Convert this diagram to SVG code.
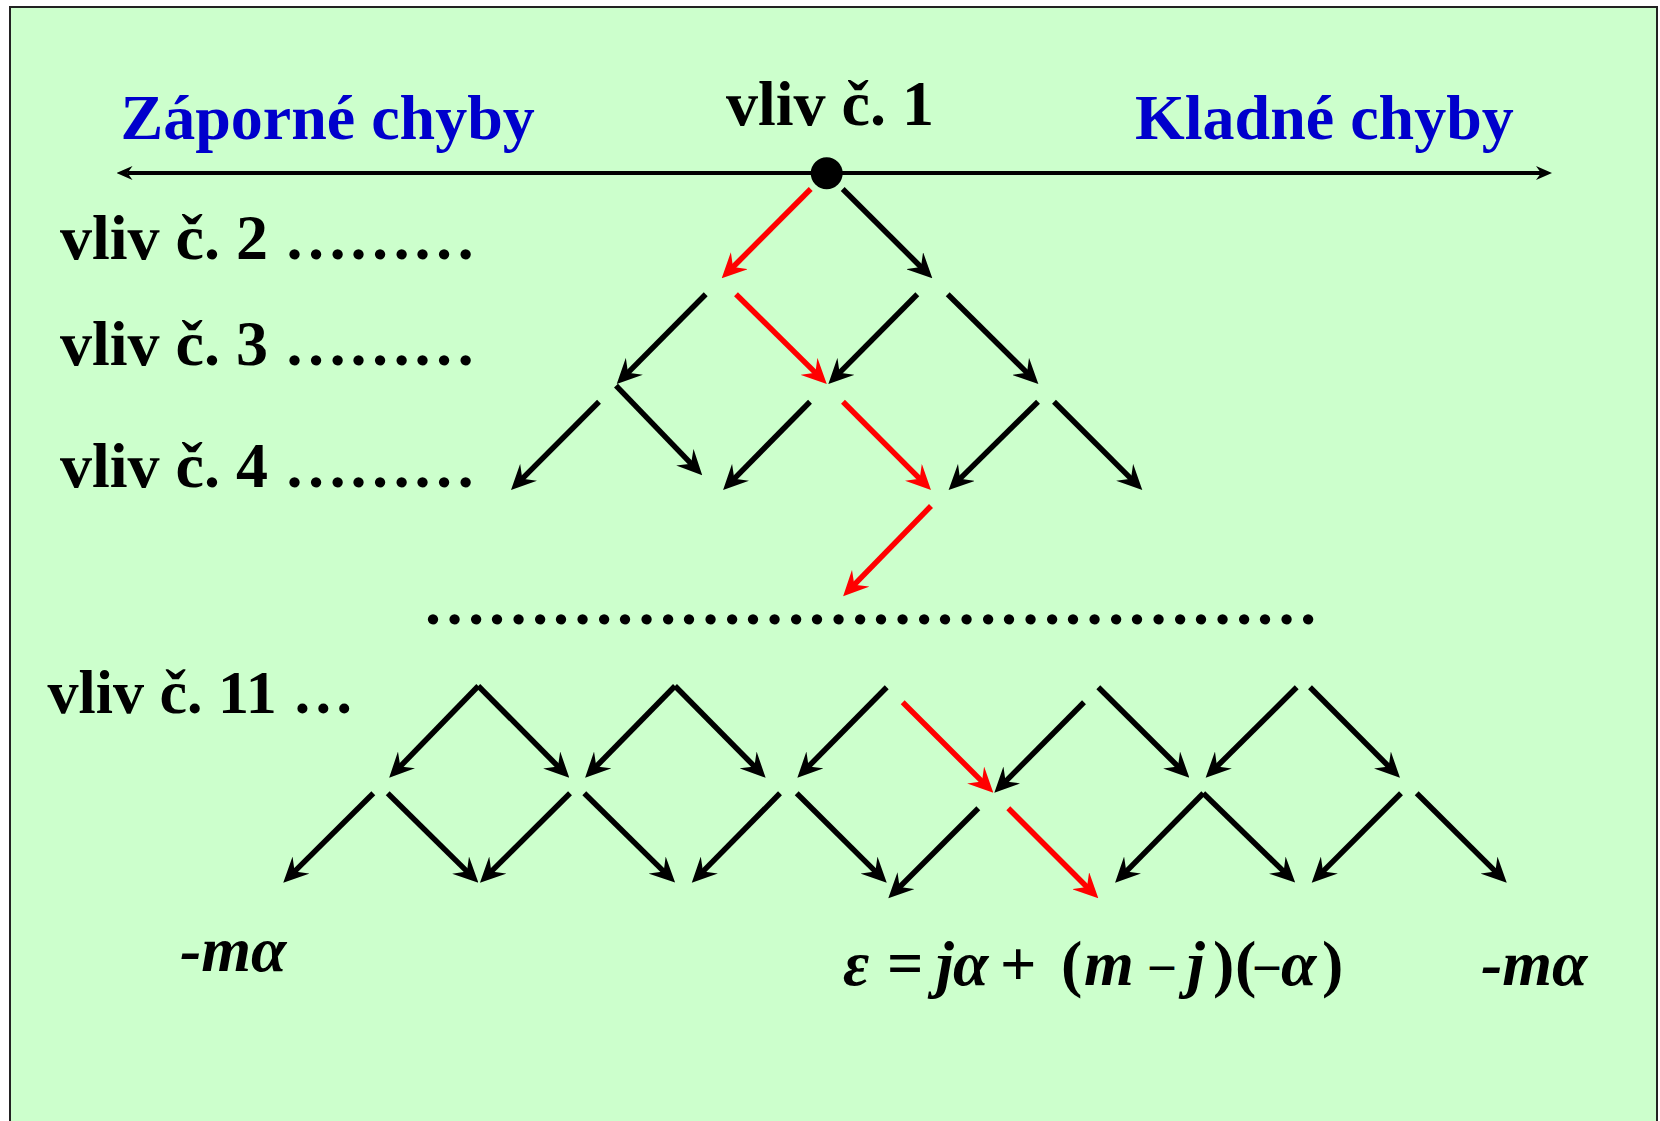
<svg xmlns="http://www.w3.org/2000/svg" width="1660" height="1121" viewBox="0 0 1660 1121">
<style>
.t{font-family:"Liberation Serif","Times New Roman",serif;font-weight:bold;font-size:64px;fill:#000}
.b{fill:#0000CC}
.i{font-style:italic}
.d{font-size:48px}
.k{stroke:#000;stroke-width:5.5;fill:none;marker-end:url(#ak)}
.r{stroke:#FF0000;stroke-width:5.5;fill:none;marker-end:url(#ar)}
</style>
<defs>
<marker id="ak" viewBox="0 0 25 24" markerWidth="25" markerHeight="24" refX="10" refY="12" orient="auto" markerUnits="userSpaceOnUse"><path d="M0,0 L25,12 L0,24 L9,12 Z" fill="#000"/></marker>
<marker id="ar" viewBox="0 0 25 24" markerWidth="25" markerHeight="24" refX="10" refY="12" orient="auto" markerUnits="userSpaceOnUse"><path d="M0,0 L25,12 L0,24 L9,12 Z" fill="#FF0000"/></marker>
<marker id="ax" viewBox="0 0 16 14" markerWidth="16" markerHeight="14" refX="5" refY="7" orient="auto-start-reverse" markerUnits="userSpaceOnUse"><path d="M0,0 L16,7 L0,14 L5,7 Z" fill="#000"/></marker>
</defs>
<rect x="10" y="7" width="1647" height="1125" fill="#CCFFCC" stroke="#222" stroke-width="2"/>

<g id="axis">
<line x1="127.5" y1="173" x2="1541" y2="173" stroke="#000" stroke-width="4" marker-start="url(#ax)" marker-end="url(#ax)"/>
</g>

<g id="label-zaporne"><text class="t b" x="120.5" y="139">Záporné chyby</text></g>
<g id="label-kladne"><text class="t b" x="1135" y="139">Kladné chyby</text></g>
<g id="label-vliv1"><text class="t" x="726" y="125">vliv č. 1</text></g>
<g id="label-vliv2"><text class="t" x="60" y="259">vliv č. 2 &#8230;&#8230;&#8230;</text></g>
<g id="label-vliv3"><text class="t" x="60" y="365">vliv č. 3 &#8230;&#8230;&#8230;</text></g>
<g id="label-vliv4"><text class="t" x="60" y="487">vliv č. 4 &#8230;&#8230;&#8230;</text></g>
<g id="label-dots"><text class="t" x="422.6" y="623.5">&#8230;&#8230;&#8230;&#8230;&#8230;&#8230;&#8230;&#8230;&#8230;&#8230;&#8230;&#8230;&#8230;&#8230;</text></g>
<g id="label-vliv11"><text class="t" x="47.6" y="713" style="font-size:62px">vliv č. 11 &#8230;</text></g>

<g id="node-start"><circle cx="826.7" cy="173.3" r="16" fill="#000"/></g>

<g id="connectors">
<line class="r" x1="810.7" y1="189" x2="732.3" y2="267.7"/>
<line class="k" x1="842.7" y1="189" x2="921.7" y2="267.7"/>

<line class="k" x1="705.7" y1="294.3" x2="627.3" y2="373.4"/>
<line class="r" x1="736" y1="294.3" x2="816.1" y2="373.4"/>
<line class="k" x1="917.3" y1="294.3" x2="838.9" y2="373.4"/>
<line class="k" x1="947.7" y1="294.3" x2="1027.7" y2="373.4"/>

<line class="k" x1="599" y1="401.7" x2="521.6" y2="479.4"/>
<line class="k" x1="616" y1="385.7" x2="691.8" y2="464.4"/>
<line class="k" x1="810" y1="401.7" x2="733.6" y2="479.4"/>
<line class="r" x1="843" y1="401.7" x2="920.4" y2="479.4"/>
<line class="k" x1="1038" y1="401.7" x2="959.3" y2="479.4"/>
<line class="k" x1="1054" y1="401.7" x2="1131.7" y2="479.4"/>

<line class="r" x1="931" y1="506" x2="853.6" y2="585.4"/>

<line class="k" x1="478.3" y1="686" x2="399.6" y2="767.1"/>
<line class="k" x1="478.3" y1="686" x2="558.7" y2="767.1"/>
<line class="k" x1="675" y1="686" x2="595.6" y2="767.1"/>
<line class="k" x1="675" y1="686" x2="755.1" y2="767.1"/>
<line class="k" x1="886.7" y1="687.3" x2="807.9" y2="767.1"/>
<line class="r" x1="902.7" y1="702.3" x2="982.7" y2="782.1"/>
<line class="k" x1="1084" y1="702.3" x2="1004.9" y2="782.1"/>
<line class="k" x1="1098.3" y1="687.3" x2="1178.7" y2="767.1"/>
<line class="k" x1="1296.7" y1="687.3" x2="1216.3" y2="767.1"/>
<line class="k" x1="1310" y1="687.3" x2="1389.4" y2="767.1"/>

<line class="k" x1="373.3" y1="793.3" x2="293.9" y2="872.1"/>
<line class="k" x1="387.7" y1="793.3" x2="467.7" y2="872.1"/>
<line class="k" x1="570" y1="793.3" x2="490.6" y2="872.1"/>
<line class="k" x1="584.3" y1="793.3" x2="664.4" y2="872.1"/>
<line class="k" x1="780" y1="793.3" x2="702.3" y2="872.1"/>
<line class="k" x1="796.7" y1="793.3" x2="876.1" y2="872.1"/>
<line class="k" x1="978.3" y1="808.3" x2="898.9" y2="887.7"/>
<line class="r" x1="1008.3" y1="808.3" x2="1087.7" y2="887.7"/>
<line class="k" x1="1203.3" y1="793.3" x2="1125.6" y2="872.1"/>
<line class="k" x1="1203.3" y1="793.3" x2="1284.4" y2="872.1"/>
<line class="k" x1="1401" y1="793.3" x2="1322.3" y2="872.1"/>
<line class="k" x1="1416.7" y1="793.3" x2="1496.1" y2="872.1"/>
</g>

<g id="label-ma-left"><text class="t i" x="180" y="970.7">-mα</text></g>
<g id="label-ma-right"><text class="t i" x="1481" y="985">-mα</text></g>
<g id="label-formula"><text class="t" y="985"><tspan x="843" class="i">ε</tspan><tspan x="887">=</tspan><tspan x="936" class="i">j</tspan><tspan x="953" class="i">α</tspan><tspan x="1000">+</tspan><tspan x="1061">(</tspan><tspan x="1084" class="i">m</tspan><tspan x="1150" class="d" dy="-5">–</tspan><tspan x="1187" class="i" dy="5">j</tspan><tspan x="1213">)</tspan><tspan x="1235">(</tspan><tspan x="1255" class="d" dy="-5">–</tspan><tspan x="1281" class="i" dy="5">α</tspan><tspan x="1322">)</tspan></text></g>
</svg>
